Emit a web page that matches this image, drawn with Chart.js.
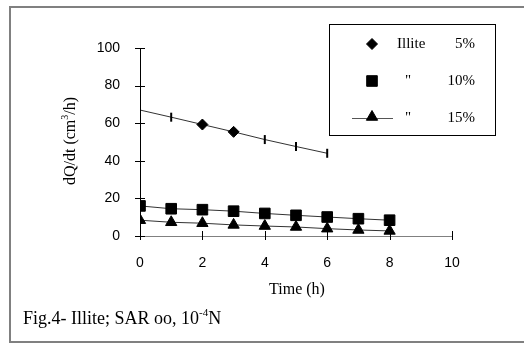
<!DOCTYPE html>
<html>
<head>
<meta charset="utf-8">
<script src="https://cdn.jsdelivr.net/npm/chart.js@4/dist/chart.umd.min.js"></script>
<style>
  body { margin: 0; background: #fff; }
  canvas { display: block; }
</style>
</head>
<body>
<canvas id="myChart" width="524" height="345"></canvas>
<script>
// data
var timeH = [0, 1, 2, 3, 4, 5, 6, 7, 8];
var illite5 = [67, 63.2, 59.3, 55.4, 51.3, 47.6, 44];
var illite10 = [16, 14.5, 14, 13.2, 12, 11, 10.1, 9.2, 8.4];
var illite15 = [8.4, 7.3, 6.8, 5.9, 5.3, 4.8, 3.9, 3.2, 2.7];
var style5 = ['line', 'line', 'rectRot', 'rectRot', 'line', 'line', 'line'];
var legendNames = ['Illite', '"', '"'];
var legendPct = ['5%', '10%', '15%'];
var xTicks = [0, 2, 4, 6, 8, 10];
var yTicks = [0, 20, 40, 60, 80, 100];

function pts(ys) {
    var out = [];
    for (var i = 0; i < ys.length; i++) out.push({ x: timeH[i], y: ys[i] });
    return out;
}

var serif = '"Liberation Serif", "Times New Roman", serif';
var sans = '"Liberation Sans", Arial, sans-serif';

// frame, crossing ticks, titles, caption and the boxed legend
var decor = {
    id: 'decor',
    beforeDraw: function (chart) {
        var ctx = chart.ctx;
        ctx.save();
        ctx.fillStyle = '#fff';
        ctx.fillRect(0, 0, chart.width, chart.height);
        ctx.strokeStyle = '#808080';
        ctx.lineWidth = 2;
        ctx.beginPath();
        ctx.moveTo(524, 7);
        ctx.lineTo(10, 7);
        ctx.lineTo(10, 342);
        ctx.lineTo(524, 342);
        ctx.stroke();
        ctx.restore();
    },
    afterDraw: function (chart) {
        var ctx = chart.ctx;
        var xs = chart.scales.x, ys = chart.scales.y;
        var a = chart.chartArea;
        ctx.save();
        ctx.lineWidth = 1;
        ctx.strokeStyle = '#000';
        ctx.beginPath();
        yTicks.forEach(function (v) {
            var py = Math.round(ys.getPixelForValue(v)) + 0.5;
            ctx.moveTo(a.left - 5, py);
            ctx.lineTo(a.left + 5, py);
        });
        xTicks.forEach(function (v) {
            var px = Math.round(xs.getPixelForValue(v)) + 0.5;
            ctx.moveTo(px, a.bottom - 5);
            ctx.lineTo(px, a.bottom + 4);
        });
        ctx.stroke();

        ctx.fillStyle = '#000';
        // x title
        ctx.font = '16px ' + serif;
        ctx.textAlign = 'center';
        ctx.textBaseline = 'alphabetic';
        ctx.fillText('Time (h)', (a.left + a.right) / 2 + 1, 294);

        // y title, rotated, with superscript
        ctx.save();
        ctx.translate(75, 141);
        ctx.rotate(-Math.PI / 2);
        ctx.textAlign = 'left';
        var p1 = 'dQ/dt (cm', p3 = '/h)';
        ctx.font = '16px ' + serif;
        var w1 = ctx.measureText(p1).width, w3 = ctx.measureText(p3).width;
        ctx.font = '10px ' + serif;
        var w2 = ctx.measureText('3').width;
        var x0 = -(w1 + w2 + w3) / 2;
        ctx.font = '16px ' + serif;
        ctx.fillText(p1, x0, 0);
        ctx.font = '10px ' + serif;
        ctx.fillText('3', x0 + w1, -7);
        ctx.font = '16px ' + serif;
        ctx.fillText(p3, x0 + w1 + w2, 0);
        ctx.restore();

        // caption
        ctx.textAlign = 'left';
        var c1 = 'Fig.4- Illite; SAR oo, 10', c3 = 'N';
        ctx.font = '18px ' + serif;
        var cw1 = ctx.measureText(c1).width;
        ctx.fillText(c1, 23, 324);
        ctx.font = '11px ' + serif;
        var cw2 = ctx.measureText('-4').width;
        ctx.fillText('-4', 23 + cw1, 316);
        ctx.font = '18px ' + serif;
        ctx.fillText(c3, 23 + cw1 + cw2, 324);

        // legend box
        ctx.strokeStyle = '#000';
        ctx.lineWidth = 1;
        ctx.strokeRect(329.5, 24.5, 166, 111);
        var rows = [44, 81, 118];
        var legendStyles = ['rectRot', 'rect', 'triangle'];
        var legendRadius = [5.5, 7.5, 6.5];
        for (var i = 0; i < rows.length; i++) {
            var yy = rows[i];
            if (i === 2) {
                ctx.strokeStyle = '#555';
                ctx.beginPath();
                ctx.moveTo(352, yy + 0.5);
                ctx.lineTo(393, yy + 0.5);
                ctx.stroke();
            }
            ctx.fillStyle = '#000';
            ctx.strokeStyle = '#000';
            Chart.helpers.drawPoint(ctx, {
                pointStyle: legendStyles[i],
                radius: legendRadius[i],
                borderWidth: 1,
                rotation: 0
            }, 372, yy + (i === 2 ? -1 : 0));
            ctx.fillStyle = '#000';
            ctx.font = '15px ' + serif;
            ctx.textBaseline = 'middle';
            ctx.textAlign = 'left';
            if (i === 0) ctx.fillText(legendNames[i], 397, yy);
            else ctx.fillText(legendNames[i], 405, yy);
            ctx.textAlign = 'right';
            ctx.fillText(legendPct[i], 475, yy);
        }
        ctx.restore();
    }
};

var config = {
    type: 'scatter',
    data: {
        datasets: [
            {
                label: legendNames[0] + ' ' + legendPct[0],
                data: pts(illite5),
                showLine: true,
                borderColor: '#333',
                borderWidth: 1,
                backgroundColor: '#000',
                pointBorderColor: '#000',
                pointStyle: style5,
                pointRadius: [4.5, 4.5, 5.5, 5.5, 4.5, 4.5, 4.5],
                pointBorderWidth: [2, 2, 1, 1, 2, 2, 2],
                pointRotation: [90, 90, 0, 0, 90, 90, 90]
            },
            {
                label: legendNames[1] + ' ' + legendPct[1],
                data: pts(illite10),
                showLine: true,
                borderColor: '#333',
                borderWidth: 1,
                backgroundColor: '#000',
                pointBorderColor: '#000',
                pointStyle: 'rect',
                pointRadius: 7.5,
                pointBorderWidth: 1
            },
            {
                label: legendNames[2] + ' ' + legendPct[2],
                data: pts(illite15),
                showLine: true,
                borderColor: '#333',
                borderWidth: 1,
                backgroundColor: '#000',
                pointBorderColor: '#000',
                pointStyle: 'triangle',
                pointRadius: 6.5,
                pointBorderWidth: 1
            }
        ]
    },
    options: {
        responsive: false,
        animation: false,
        events: [],
        layout: {
            padding: { left: 0, top: 48, right: 72, bottom: 64 }
        },
        plugins: {
            legend: { display: false },
            tooltip: { enabled: false }
        },
        scales: {
            x: {
                type: 'linear',
                min: 0,
                max: 10,
                afterFit: function (s) { s.height = 45; },
                afterBuildTicks: function (s) {
                    s.ticks = xTicks.map(function (v) { return { value: v }; });
                },
                grid: { display: false },
                border: { display: true, color: '#808080', width: 1 },
                ticks: {
                    padding: 11,
                    color: '#000',
                    font: { family: sans, size: 14 }
                }
            },
            y: {
                type: 'linear',
                min: 0,
                max: 100,
                afterFit: function (s) { s.width = 140; },
                afterBuildTicks: function (s) {
                    s.ticks = yTicks.map(function (v) { return { value: v }; });
                },
                grid: { display: false },
                border: { display: true, color: '#000', width: 1 },
                ticks: {
                    padding: 12,
                    color: '#000',
                    font: { family: sans, size: 14 }
                }
            }
        }
    },
    plugins: [decor]
};

var ctx = document.getElementById('myChart').getContext('2d');
var myChart = new Chart(ctx, config);
</script>
</body>
</html>
